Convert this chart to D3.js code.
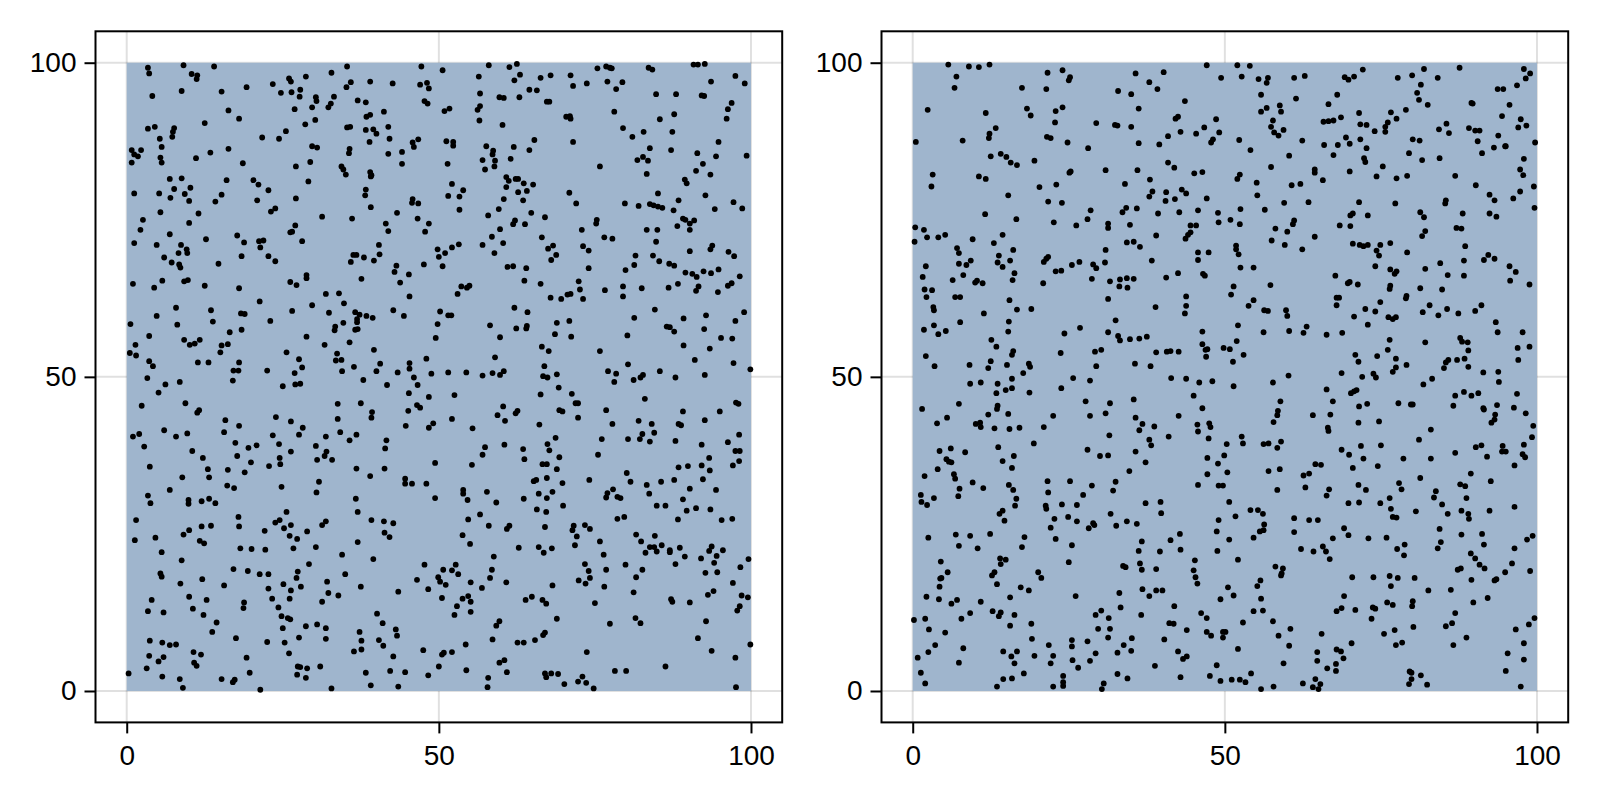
<!DOCTYPE html>
<html>
<head>
<meta charset="utf-8">
<style>
	html, body { margin: 0; padding: 0; background: white; }
	svg { display: block; }
	.tick text { font-family: "Liberation Sans", Arial, sans-serif; font-size: 28px; fill: black; }
</style>
<script src="https://cdn.jsdelivr.net/npm/d3@7"></script>
</head>
<body>
<svg class="chart" width="1600" height="800"></svg>
<script>
const tickValues = [0, 50, 100];
const domain = [-5, 105];
const fieldExtent = [0, 100];
const fieldColor = "#9fb5cd";

const leftPoints = [
[3.4,99.2],[3.6,98.3],[9.1,99.6],[14,99.4],[10.4,98.2],[11.3,98],[11.2,97.4],[4.1,94.7],[8.8,95.5],[15.2,95.4],[19.2,96.1],[23.4,96.6],[26,97.5],[26.3,97],[28.7,97.8],[32.8,98.4],[35.3,99.4],[35.2,96.1],[35.9,96.9],[39,97],[42.6,96.7],[47.2,99.4],[47,96.5],[48.1,96.8],[48.4,95.9],[24.7,95.2],[26.4,95.3],[27.8,95.7],[27.7,94.6],[30.3,94.5],[30.4,93.9],[33.2,94.6],[32.7,93.5],[32.3,92.9],[29.7,92.9],[26.9,92.6],[37,94],[38.3,93.7],[47.7,93.9],[48.2,93.5],
[16.3,92.4],[18,91.1],[12.5,90.4],[3.4,89.5],[4.5,89.8],[7.6,89.6],[7.4,89],[7.3,88.2],[5.3,87.9],[5.6,86.6],[21.7,88.1],[24.4,87.9],[25.5,89.1],[28.6,90.2],[30.2,90.9],[38.4,91.4],[39,91.7],[41.2,92.2],[35.3,89.7],[35.8,89.8],[38.3,89.3],[39.5,89.4],[40,88.7],[41.9,89.8],[42.1,87.9],[38.9,87.4],[45.8,87.3],[46.7,87.8],[46,86.6],[29.7,86.7],[30.5,86.5],[35.7,86.3],[35.6,85.6],[41.9,85.5],[44.1,85.8],[44.1,83.9],[0.8,86.1],[1.2,85.4],[1.8,85.1],[2.3,86.1],[0.8,84.1],[5.4,84.9],[5.6,84.1],[11.1,84.8],[13.4,85.7],[16.3,86.3],[18.6,84],[27.1,83.5],[29.4,84.2],[34.4,83.5],[34.7,83],[35.1,82.2],[39,82.6],[39.1,81.9],[39.2,82.1],
[6.9,81.5],[8.8,81.6],[16,81.3],[20.3,81.3],[21.1,80.6],[29.1,81.1],[7.6,79.9],[10.2,80.1],[22.7,79.7],[38.3,79.8],[38.2,78.9],[1.2,79.2],[5.2,79.2],[9.3,79.1],[7,78.5],[10,78],[15.2,79],[14.2,77.9],[20.9,78.1],[27.1,78.4],[45.8,78.3],[45.7,77.7],[46.7,77.6],[39.1,77],[23.1,76.3],[23.8,76.8],[5.4,76.2],[11.5,76],[43.3,76.1],[31.3,75.5],[36.1,75.2],[46.6,75.2],[2.6,75],[10,74.5],[41.5,74.4],[48.4,74.4],[27,74.1],[2.2,73.4],[41.9,73.2],[47.8,73.1],[26.5,73.1],[26.2,73],[6.9,72.7],[17.7,72.5],[12.7,71.9],[21.2,71.6],[21.9,71.7],[28.1,71.6],[18.8,71.4],[1.2,71.3],[4.8,71],[8.7,71],[9.6,70.3],[9.7,69.7],[8.3,69.7],[21.4,70.6],[40.4,71],[18.4,69.2],[22.7,69.2],[6,69],[36.3,69.4],[36.8,69.4],[38,69],[40.5,69.5],[39.6,68.5],[35.9,68.3],[23.8,68.4],[7.2,68.2],[8.4,67.9],[8.6,67.4],[14.7,68],[43.2,67.7],[47.6,67.9],[42.9,66.7],[45.2,66.3],[28.8,66.2],[28.8,65.7],[5.7,65.3],[9.2,65.2],[9.8,65.4],[1,64.8],[4.4,64.2],[12.5,64.5],[18,64.1],[26.2,65.1],[27.2,64.6],[37.6,65.6],[43.8,65],
[31.9,63.2],[34,63.3],[45.3,62.8],[21.3,62],[34.8,61.7],[29.7,61.4],[7.9,61],[13.5,60.6],[26.5,60.5],[18.3,60.1],[18.9,60],[32.4,60.2],[36.6,60.3],[37.3,59.9],[42.7,60.6],[44.4,59.7],[38.4,59.7],[39.4,59.4],[4.8,59.7],[36.9,59.2],[36.9,58.7],[13.8,58.8],[23,58.9],[34.7,58.6],[0.6,58.4],[8.1,58.3],[33.4,58],[33.3,57.4],[37,57.6],[36.6,57.5],[18.4,57.5],[16.5,57.1],[3.6,56.5],[28.8,56.4],[9.2,55.9],[11.7,55.9],[10.9,55.3],[10.1,55.1],[1.4,55.1],[15.2,55],[16.2,55.2],[35.7,55.5],[31.7,55.1],[39.6,54.3],[15,53.9],[0.5,53.8],[1.5,53.4],[25.6,53.9],[33.7,53.7],[27.6,52.8],[33.5,52.6],[34.4,52.7],[48,52.9],[3.6,52.5],[4.2,51.7],[11.4,52.3],[13.1,52.3],[18,52.3],[40.6,52.1],[45.3,52.2],[28.1,51.5],[36.4,51.6],[45.3,51.3],
[17.1,51],[17.9,51],[22.5,51],[26.9,50.6],[34.5,50.9],[40,50.9],[43.4,50.7],
[3.3,49.8],[6.2,48.8],[8.5,49.2],[5.1,47.5],[17,49.4],[25,48.5],[27,48.8],[27.8,48.9],[37.9,49.5],[41.7,48.7],[46,49.9],[46.6,48.7],[45.2,47.4],[48.4,46.8],[2.4,45.4],[9.4,45.8],[11.6,44.7],[11.3,44.3],[33.8,45.7],[37.5,45.8],[46.5,45.5],[47,45.1],[45.1,44.6],[39.3,44.4],[39.2,43.5],[23.9,43.6],[15.8,43.1],[26.3,42.9],[33.8,43.3],[18,42.2],[44.7,42.2],[28.2,41.9],[48.4,41.9],[6,41.5],[15.6,41.2],[9.7,41],[34.2,41.2],[1,40.5],[2,40.9],[7.9,40.5],[23.4,40.7],[27.6,40.8],[31.9,40.5],[36.8,40.8],[35.7,39.9],[41.6,39.9],[2.8,38.9],[17.4,39.5],[20.8,39.1],[19.5,38.7],[24.4,39.3],[30.3,39],[41.4,38.6],[10.5,38.2],[26.3,38.1],[32,38.1],[31.7,37.4],[17.7,37.4],[12.2,37.1],[24.5,37.1],[30.5,36.8],[32.9,36.8],[19.9,36.4],[24.6,36.1],[22.8,35.8],[3.7,35.7],[13,35.3],[16.2,35.2],[18.9,34.8],[36.8,35.4],[41.3,35.4],[13.2,34],[8.9,34],[39,34.2],[44.6,33.8],[30.8,33.3],[44.6,33],[45.7,33],[48,33],[16.1,32.7],[17.2,32.3],[24.8,32.5],[6.9,32],[30.4,31.6],[3.4,31.1],[3.8,29.9],[9.9,30.4],[9.9,29.8],[12,30.2],[13.2,30.6],[14.2,29.9],[36.7,30.6],[37,28.5],[25.6,28.5],[1.5,27.2],[17.9,27.7],[18,26.2],[12,26.2],[13.5,26.3],[23.8,26.8],[24.5,27.2],[26.3,26.4],[31.9,27],[31.3,26.4],[39.2,27.2],[41.2,27],[42.7,26.7],
[10,25.6],[9.1,24.9],[22.1,25.5],[25.2,25.9],[28.9,25.4],[26.1,24.7],[27.3,24.2],[41.3,25.2],[42.1,24.5],[4.6,24.4],[1.3,24],[11.7,23.9],[12.4,23.5],[37,23.7],[5.6,22.1],[18.2,22.7],[20,22.6],[22.2,22.5],[26.7,22.7],[30.3,22.9],[34.5,21.7],[8.8,20.8],[39.5,21],[29.2,20.2],[47.7,20.1],[17.1,19.4],[19.4,19.1],[5.4,18.7],[5.6,18.2],[21.3,18.6],[22.7,18.6],[27.4,19],[35,18.6],[27.2,18],[12.1,17.8],[46.5,17.7],[32.1,17.4],[8.6,17.1],[15.6,16.8],[25.1,17],[37.5,16.6],[27.9,16.6],[22.7,16.3],[26.3,16],[48.3,16.2],[43.5,15.8],[32.3,15.6],[33.9,15.2],[10,15],[23.3,14.7],[26.1,14.7],[4,14.5],[12.8,14.5],[18.8,14.1],[31.3,14.2],[18.7,13.2],[10.6,13.1],[3.4,12.7],[5.9,12.5],[24.3,13.3],[12.3,12.1],[40.1,12.3],[24.8,11.9],[25.8,11.6],[26.2,11.4],[14.4,10.9],[41,10.8],[28.7,10.3],[30.5,10.6],[31.9,10],[25,10],[43.1,9.8],[13.7,9.4],[37.3,9.4],[43.3,8.8],[17.5,8.4],[27.6,8.5],[31.9,8.3],[3.7,8],[5.7,7.7],[6.9,7.3],[7.9,7.4],[22.5,7.8],[25.3,7.7],[37.6,8],[40.4,8.1],[41.1,7.2],[37.6,6.6],[36.4,6.3],[47.5,6.5],[10.7,6.2],[11.9,5.8],[26,6],[3.6,5.6],[5.9,5.4],[19.2,5.3],[42.7,5.5],[5.1,4.7],[10.8,4.5],[11.2,4],[3.2,3.6],[27.4,3.9],[27.8,3.8],[28.9,3.6],[31,3.9],[0.3,2.8],[19.7,2.9],[27.3,2.6],[38.3,2.9],[42.2,3.2],[44.6,3],[48.3,2.5],[5.7,2.3],[28.7,2.1],[8.5,1.9],[15.2,1.9],[17.3,1.8],[17,1.4],[39.1,0.9],[43.5,0.7],[9,0.5],[21.4,0.2],[32.8,0.4],
[50.6,98.8],[58,99.6],[61.3,99.3],[62.5,99.8],[56.4,97.8],[63,98.1],[62.1,97.2],[66.3,97.6],[67.9,98],[71.1,98],[71.5,96.3],[73.7,96.7],[75.4,99.1],[76.8,99.4],[77.4,99.2],[77.7,99.1],[77,97],[79.4,96.9],[78.4,95.8],[83.6,99.2],[84.2,98.9],[90.8,99.7],[91.5,99.7],[92.6,99.8],[97.5,97.9],[99,96.7],[93.6,97],[56.6,95.1],[59.7,94.5],[60.4,94.4],[62.9,94.5],[64.5,95.7],[65.7,95.6],[67.3,93.8],[67.7,93.8],[84.8,95],[88,95],[92.1,94.8],[92.5,94.7],[96.9,93.6],[96.3,92.6],[50.9,92.3],[51.7,92.7],[56.6,93.1],[56.2,92.5],[56.5,90.8],[60.2,90.1],[78.1,92.2],[70.4,91.4],[71,91.5],[71.1,91.1],[85.4,91],[87.7,91.8],[96.1,91.1],[79.5,89.6],[81,88.2],[82.8,89],[87.4,89],[65.3,87.7],[51.2,87.5],[52.3,87.4],[52.3,86.8],[71.5,87.4],[94.8,87.4],[57.6,86.7],[62,86.6],[64.5,86.1],[58.7,86],[58.6,85.4],[83.8,86.4],[87.2,86.1],[91.4,85.6],[94.4,85.1],[99.3,85.2],[57,84.5],[59,84.4],[61.5,84.7],[81.8,84.5],[82.7,85],[83.5,84.4],[51.4,83.9],[58.9,83.5],[57.4,83],[75.8,83.5],[92.3,83.9],[91.2,82.8],[83.3,82.3],[93.5,82.2],[60.8,81.8],[61.2,81.2],[62.3,81.5],[62.7,81.5],[89.4,81.4],[89.7,80.8],[52.1,80.7],[63.6,80.8],[65.1,80.6],[60.8,80.2],[53.9,79.7],[64.1,79.6],[62.7,79.4],[70.9,79.3],[85.1,79.2],[51.5,78.8],[53.3,78.7],[92.7,78.9],[60.4,78.3],[63.5,78.1],[88.4,78.1],[72,77.6],[79.8,77.6],[82,77.2],[83.8,77.5],[84.4,77.3],[85.1,77.1],[85.8,76.9],[97.2,77.8],[98.6,76.8],[94.2,76.7],[53.3,76.6],[59.6,76.7],[87.6,76.5],[64.8,76.1],[57.9,75.7],[67,75.4],[89.1,75.2],[89.5,75],[90.9,74.9],[62.2,74.9],[61.9,74.3],[63.8,74.3],[75.3,75],[75.2,74.4],[90.2,74.4],[88.2,74],[59.8,73.5],[72.9,73.4],[83.3,73.4],[85,73.4],[90.2,73.4],[58.5,72.3],[66.5,72.2],[76.5,72.2],[77.8,72],[84.8,71.5],[60.3,71.3],[53.2,71.1],[57,71],[52.1,70.6],[68.3,70.9],[67.5,70.4],[73.1,70.8],[74,70.1],[93.8,70.9],[93.5,70.3],[49.8,70.3],[51,69.7],[50,69.1],[58.9,69.7],[68.8,69.4],[90.2,70],[96.4,69.9],[97.3,69.2],[81.5,69.3],[84.3,69.3],[68,68.6],[85.3,68.4],[86.9,68],[87.7,67.7],[50.6,67.6],[61,67.5],[61.9,67.6],[64,67.3],[81.3,67.8],[74,67.3],[79.9,67],[89.5,66.6],[90.6,66.4],[91.3,65.9],[92.4,66.8],[93.6,66.5],[94.8,67.1],[98.2,66],[63.7,65.3],[66.3,64.8],[72.4,65.2],[96.9,64.9],[53.6,64.4],[54.9,64.5],[54.5,64.2],[79.5,64.4],[82.5,64.1],[86.8,64.2],[88.3,64.8],[91.6,64.4],[91.2,63.7],[96.3,64.5],[72.6,63.9],[76.6,63.8],[53,63.2],[94.7,63.5],[70.6,63.1],[71.1,63.2],[79.5,62.8],[67.9,62.6],[69.6,62.4],[73.1,62.4],[62.1,61],[84.6,60.7],[50.2,60.4],[64.2,60.3],[98.9,60.3],[51.5,59.8],[52,59.8],[92.8,59.8],[81.3,59.4],[89.2,59.3],[97.5,58.9],[70.9,58.9],[68.9,58.6],[49.8,58.4],[58.2,58.2],[64.1,58.1],[62.4,57.7],[64,57.7],[86.5,58],[87,57.9],[87.7,57.2],[92.5,57.6],[68.6,56.8],[71.2,56.4],[80.2,56.6],[49.5,56.2],[59.8,56.3],[95.2,56.2],[97,56.1],[89.2,55],[66.5,54.8],[67.6,54.1],[75.8,54.1],[93.4,54.5],[59,53.1],[91,52.7],[97.2,52.2],[80.3,52],[66.9,51.7],[99.9,51.2],
[48.8,50.5],[51.5,50.7],[54.4,50.7],[57,50.2],[58.6,50.6],[59.8,50.3],[60.4,50.9],[66.7,50.1],[67.4,49.9],[68.9,50.4],[77.1,50.9],[78.4,50.5],[78.1,49.2],[81.2,49.5],[82.3,49.9],[82.7,50.3],[85.4,50.9],[87.9,49.9],[92.6,50.3],[69.2,48.3],[52.5,47.1],[66.3,47.2],[71.3,47.3],[83,46.5],[71.9,45.8],[72.3,45.8],[60.3,45.3],[97.6,45.9],[98,45.7],[59.4,43.9],[62.6,44.6],[62.3,44.2],[69.3,44.7],[69.8,44.5],[76.8,44.7],[89.1,44.5],[95,44.5],[52.1,43.3],[60.6,43],[72.3,43.5],[82,43],[92.6,43.1],[49.1,42.6],[66.1,42.4],[77.8,42.5],[84.1,42.5],[88.4,42.5],[88.8,42.3],[55.4,41.8],[84.5,41.1],[82.6,40.9],[98.1,40.8],[68.7,40.3],[76.1,40.1],[80.3,40.1],[82.2,40.1],[83.8,39.7],[87.9,39.8],[96.3,39.6],[60.5,39.2],[67.4,39.3],[92.1,39.2],[57.4,38.8],[63.5,38.5],[67.7,38.3],[97.5,38.2],[98.2,38.2],[57,37.6],[75.5,37.6],[69.3,37.2],[93.3,37.1],[63.7,36.9],[98.1,36.6],[49.4,36.3],[66.6,36.1],[67.3,36.1],[55.3,36],[92.1,35.9],[89.9,35.8],[88.4,35.6],[97.1,35.9],[68.9,35.3],[93.4,35.1],[80.1,34.7],[65.6,33.6],[65.2,33.4],[67.3,33.9],[74.1,33.6],[80.7,33.3],[85.6,33.3],[87.7,33.6],[92.3,33.7],[69.8,33.1],[83.3,32.8],[77.9,32.1],[53.9,32],[53.9,31.4],[57.7,31.7],[90.2,32.2],[94.4,32],[68.2,31.7],[66,31.4],[77,31.5],[76.8,30.8],[83.7,31.4],[78.6,30.9],[79.1,30.7],[49.4,30.7],[63.6,30.6],[67.3,30.7],[54.6,30.4],[89.1,30.5],[59.2,30],[69.9,29.5],[84.9,29.5],[86.3,29.5],[65.7,28.9],[67.2,28.5],[91.2,29.1],[93.5,28.9],[89.7,28.7],[56.6,28.1],[79.7,27.7],[78.6,27.4],[88.3,27.3],[54.7,27.3],[95.3,27.2],[97,27.4],[58,26.3],[67,26.1],[71.6,26.3],[73.4,26.4],[74.2,25.8],[61.3,26.3],[60.9,25.8],[71.4,25.6],[53.8,24.8],[72.1,24.6],[81.6,24.9],[84.6,24.7],[75.8,23.8],[82.4,23.8],[55,23.4],[71.8,23.2],[85.7,23.2],[93.7,23],[62.8,22.8],[66,22.9],[68.1,22.7],[83.8,22.9],[84.5,22.9],[84.9,22.2],[88.6,22.8],[87,22.4],[87,22.1],[66.8,22],[83.1,22],[93.3,22.3],[95.5,22.4],[94.5,21.5],[76.4,21.7],[89.4,21.4],[58.8,21.4],[92,21.1],[99.6,21],[52.7,20.1],[73.4,20.2],[79.9,20.1],[87.9,20.2],[94.1,20.4],[50.7,19.3],[52.1,19.2],[58.5,19.3],[76.8,19.3],[82.6,19.3],[98.3,19.7],[53.1,18.6],[74,19.1],[92.7,18.8],[94.6,18.9],[49.9,18.1],[50.2,17.4],[51.1,16.9],[58.2,18],[74.2,18],[81.6,18.1],[55.1,17.3],[60.8,17.3],[72.4,17.6],[73.5,17.1],[97.1,17.2],[56.9,16.4],[68.2,16.8],[76.5,16.6],[81.2,15.7],[94,15.9],[93.1,15.3],[50.5,14.8],[53.8,14.7],[54.7,15.1],[55.1,14.2],[64.9,15],[63.9,14.5],[66.6,14.5],[98.5,15.2],[99.5,14.9],[87.2,14.6],[87.4,14.2],[90.2,14.1],[67.2,13.9],[75,14],[52.9,13.5],[98.2,13.5],[97.8,12.8],[55.1,12.6],[52.5,12.1],[68.9,11.5],[81.5,11.6],[59.7,11.1],[92.8,11.1],[82.3,10.8],[77.4,10.7],[59.2,10.4],[67,9.3],[66.7,8.9],[91.5,8.4],[58.6,8.2],[65.4,8.1],[62.6,7.7],[63.6,7.7],[54.3,7.4],[99.9,7.4],[93.7,6.4],[73.7,6.2],[52.1,6.2],[50.8,6.1],[50.5,5.8],[97.5,5.3],[60.5,4.9],[59.7,4.5],[50,3.9],[86.3,3.9],[54.4,3.3],[60.9,3],[78.2,3.2],[80,3.2],[67,2.8],[68,2.8],[69.1,2.7],[67.2,2.2],[73,2.3],[57.9,2.1],[72.3,1.5],[73.6,1.3],[70.1,1.1],[57.8,0.6],[74.8,0.4],[97.6,0.6]
];

const rightPoints = [
[5.7,99.7],[9,99.4],[10.6,99.3],[12.3,99.7],[7,97.8],[6.7,96],[21.6,98.4],[24,98.8],[25.2,97.7],[25,97.2],[17.5,96],[21.4,95.8],[35.7,98.3],[40.2,98.5],[37.9,96.9],[39.2,95.8],[32.9,95.5],[35,95],[43.6,93.9],[2.4,92.5],[11.7,92],[18.3,92.7],[18.9,91.6],[22.9,92.3],[24,92.9],[36.2,92.7],[42.5,91.4],[42.1,91.1],[22.8,90.5],[29.4,90.4],[32.4,90.1],[32.8,90],[35,89.8],[13.3,89.6],[12.3,88.7],[12.2,88],[42.9,89],[45.4,88.7],[40.9,88.3],[0.5,87.4],[8,87.6],[21.5,88.2],[22.1,88],[24.8,87.3],[36.2,87.2],[39.5,87],[28.1,86.4],[12.5,85.1],[14.1,85.5],[15,85],[15.7,84.1],[16.7,83.7],[19.5,84.4],[40.9,84.1],[41.9,83.3],[25.3,82.7],[25.1,82.5],[30.9,82.9],[36,82.9],[45.1,82.4],[3.2,82.2],[3,80.3],[10.6,81.9],[11.7,81.5],[38,81.4],[23,80.6],[34,80.7],[20.3,80.2],[38.4,79.5],[43.1,79.8],[43.8,79.2],[40.6,79.4],[15.3,78.9],[37.9,78.7],[42,78.3],[40.5,78],[21.7,77.9],[23.9,77.7],[34.2,76.9],[35.9,76.8],[28.5,76.5],[33.6,76.2],[39.3,76],[42.7,76.2],[45.7,76.5],[11.6,75.9],[16.6,75.1],[28,75.1],[22.6,74.6],[26.2,74.1],[31.3,74.4],[31.3,73.7],[34.8,74.2],[44.5,74.1],[45.4,74.1],[0.4,73.8],[1.8,73.4],[44.5,73],[44.1,72.6],[43.7,72],[5.2,72.6],[14.4,72.6],[39,72.5],[2.3,72.2],[4.1,72.2],[9.6,71.9],[0.3,71.5],[13,71.3],[34.3,71.4],[35.4,71.5],[36.4,70.7],[7.1,70.5],[7.4,69.7],[16.1,70.2],[30.9,70.2],[45.7,69.8],[13.8,69.3],[21.7,69.1],[21.4,68.8],[21,68.3],[15.6,68.5],[9.3,68.5],[45.7,68.6],[38.3,68.5],[13.6,68.2],[7.4,68],[8.6,67.8],[2.1,67.6],[14.4,67.5],[26.7,68.3],[25.5,67.8],[28.9,67.9],[29.4,67.3],[30.8,68.2],[22.9,66.8],[23.8,66.9],[16.3,66.5],[42.5,66.5],[8.1,66.2],[1.6,65.9],[40.6,65.8],[6.4,65.4],[16,65.4],[28.7,65.6],[33.2,65.5],[34.3,65.7],[35.4,65.6],[31.6,65.2],[10.3,65.3],[10,65],[11.2,64.9],[20.9,64.9],[33.1,64.4],[34.4,64.2],[1.9,63.9],[3.1,63.8],[2.2,62.7],[6.8,62.7],[7.6,62.7],[43.8,62.8],[15.5,62.2],[31.3,62.4],[3.3,61.1],[3.4,60.6],[16.7,60.7],[19,60.8],[38.9,61.1],[43.8,61.3],[11.4,60.1],[43.6,60.1],[7.6,58.7],[15.4,58.8],[32.5,59],[1.8,57.5],[3.4,58.2],[4.1,56.8],[5.3,57.3],[15.3,57.2],[26.8,57.8],[24.3,56.9],[31.3,57.1],[32.9,56.5],[33.2,55.8],[34.8,56],[36.3,56.1],[37.5,56.4],[12.6,55.9],[13.4,54.8],[16.1,54.1],[15.9,53.5],[23.7,53.8],[30.2,54.3],[29.2,54],[39,53.9],[40.7,54],[41.3,54.1],[42.6,54],[2.1,53.3],[3.5,51.7],[9.1,51.9],[12.5,52.5],[12.1,51.4],[15.1,51.9],[18.6,52.1],[18.8,51.6],[29.4,51.7],[35.6,52.1],[38.1,51.7],
[17.7,50.6],[15.9,49.7],[25.7,49.8],[28.4,49.4],[41.4,49.8],[43.8,49.7],[45.9,49.1],[9.2,48.9],[10.9,49.1],[13.6,48.9],[14.9,47.9],[15.9,48.2],[13.4,47.4],[18.7,47.5],[23.8,48.2],[45,47],[35.4,46.4],[27.7,46.1],[31.6,45.8],[7.4,45.7],[13.6,45.4],[13.5,44.9],[1.5,44.9],[12.1,44],[15.3,44.1],[22.5,43.8],[28.4,43.8],[30.9,44.2],[42.6,43.8],[5.5,43.5],[35.7,43.5],[3.9,42.6],[10.1,42.5],[10.8,42.7],[10.9,42],[36.8,42.5],[45.6,42.4],[13.1,41.8],[15.5,41.7],[17.1,41.9],[21,42],[38.7,42.1],[36.3,41.5],[45.7,41.3],[31.5,40.7],[41,40.5],[37.9,40],[38.2,39.1],[19.4,39.4],[13.7,38.8],[6.1,38.6],[4.3,38.2],[8.4,38],[28,38.4],[35.7,38.1],[30,37.4],[31.3,37.5],[16.2,37.4],[5.4,36.9],[5.8,36.5],[6.2,36.4],[14.4,36.6],[37.3,36.4],[15.9,35.5],[4,35.3],[34.7,35],[6.6,34.5],[1.9,34.2],[6.8,33.8],[21.6,33.4],[25.2,33.4],[9.6,33.2],[32.5,33.3],[15.4,32.8],[28.7,32.7],[45.7,32.8],[11.3,32.3],[7.5,32.2],[16.1,32],[32.1,31.9],[21.7,31.6],[1.3,31.2],[7.3,31],[27.3,31.2],[3.4,30.7],[16.6,30.6],[1.4,30.1],[39.7,30.1],[2.3,29.6],[16.4,29.5],[21.3,29.5],[21.4,29],[23.9,29.7],[26.3,29.6],[37.3,29.9],[14.4,28.7],[13.9,28.2],[31.7,28.2],[39.8,28.3],[22.7,27.4],[24.9,27.7],[14.7,27.1],[26.3,27],[34.3,27],[28.9,26.7],[29.1,26.4],[35.9,26.6],[32.6,26.3],[22.1,26],[28.2,25.9],[6.9,24.9],[9.2,24.7],[12.4,25],[42.8,25],[2.5,24.4],[17.9,24.5],[22.9,24.2],[41.3,24],[36.7,23.8],[25.5,23.2],[7.4,23.1],[17.5,22.9],[10.4,22.7],[36.2,22.3],[42.9,22.5],[39.6,22.2],[14,21.1],[14.9,20.9],[14.1,20.2],[4.5,20.6],[25,20.5],[45.2,20.8],[36.4,20.3],[33.7,19.9],[34.1,19.7],[36.7,19.3],[39,19.4],[45,19.2],[5.6,18.9],[13.1,18.9],[12.7,18.4],[20.1,18.9],[20.6,18],[45.3,18.1],[4.4,17.9],[4.6,18],[45.6,17.1],[13.5,17],[4.3,16.6],[17.3,16.5],[18.6,16],[36.8,16.2],[39,16],[40,16],[33.1,15.6],[2.2,15],[15.6,14.9],[26.1,15.1],[37.9,15.1],[4.2,14.6],[7.1,14.5],[10.9,14.2],[6.2,13.9],[41.9,13.5],[33.3,13.3],[12.8,12.7],[30.2,12.8],[14.1,12.5],[9.2,12.4],[13.8,11.9],[16.3,12.1],[29.3,12.1],[36.6,12.1],[46.2,12.4],[0.2,11.3],[2,11.5],[7.8,11.5],[31.4,11.6],[19,10.7],[41.1,10.8],[41.8,10.7],[15.6,10.4],[2.6,9.8],[29.7,9.9],[31.6,9.9],[43.9,9.7],[5.2,9.3],[31.3,8.5],[19.1,8.3],[35.1,8.4],[40.3,8.2],[25.5,8.1],[28,7.9],[3.6,7.3],[21.8,7.3],[33.8,7.3],[25.5,7.1],[8.1,6.8],[2.5,6.2],[14.5,6.3],[16.7,6.3],[35,6.4],[32.8,6.1],[42.5,6.3],[29.3,6],[15.8,5.5],[19.5,5.6],[22.5,5.6],[0.8,5.3],[43.9,5.5],[43.3,5.1],[25.6,4.9],[28.4,4.8],[7.4,4.5],[16.3,4.4],[22.1,4.4],[38.8,4],[26.5,3.7],[1.3,2.9],[17.8,2.8],[32.8,2.7],[24.1,2.4],[42.9,2.2],[14.5,1.9],[15.9,2],[34.4,2],[2,1.2],[24.1,1.4],[30.6,1.2],[13.5,0.7],[22.5,0.7],[24.1,0.8],[30.3,0.3],
[47.1,99.6],[52,99.6],[54,99.5],[49.4,97.6],[52.7,97.8],[55.4,97.4],[56.9,97.6],[56.7,96.8],[61.1,97.6],[62.8,97.9],[69.2,97.7],[69.8,97.3],[70.7,97.8],[72.1,98.9],[77.7,97.6],[80,98],[81.9,99],[84.1,97.6],[87.6,99.2],[97.9,99],[98.9,98.3],[98.2,97.5],[96.8,96.4],[81.4,96.5],[93.7,95.8],[94.6,95.8],[55.8,94.9],[80.8,95.2],[68,94.9],[61.4,94.3],[81.1,94.1],[66.6,93.4],[82.5,93.3],[89.5,93.6],[89.7,93.5],[95.6,93.3],[58.8,93.2],[56.7,92.8],[55.8,92.2],[59,92.2],[71.5,92],[76.6,92.1],[79,92.5],[68.6,91.3],[77.5,91.1],[94.4,91.5],[48.6,91],[57.7,90.8],[97.4,91],[67.4,90.8],[66.6,90.7],[65.8,90.6],[71.7,90.2],[72.7,90.1],[76.1,90.5],[85.5,90.3],[98.3,90],[46.7,89.7],[57.4,89.8],[75.7,89.8],[97,89.7],[59.4,89.3],[75.7,89],[74,89.1],[84.3,89.4],[89.1,89.6],[90.1,89.2],[90.8,89.2],[49.1,88.9],[57.9,88.9],[58.6,88.4],[85.9,88.8],[93.8,88.4],[69.4,88.1],[48.1,87.8],[47.8,87.3],[52.3,87.7],[62.4,87.6],[71.7,87.8],[80.1,87.8],[81.2,87.6],[90.5,87.5],[99.7,87.3],[65.9,86.9],[68.1,86.9],[70,87.1],[94.9,86.7],[95,86.7],[93.1,86.5],[72.7,86.4],[54.1,86.1],[79.5,85.6],[91.2,85.6],[60.3,85.2],[67.4,85.3],[84.4,84.8],[97.9,84.7],[72.3,84.8],[72.5,84.2],[81.6,84.5],[57.4,83.4],[75.3,83.5],[46.4,82.6],[64.4,83],[64.4,82.5],[52.4,82.2],[70,82.7],[97.3,83],[97.8,82.1],[74.3,81.9],[79.2,82],[86.9,82],[52,81.5],[77.5,81.6],[65.7,81.3],[55.1,80.9],[60.7,80.5],[62.1,80.7],[90.2,80.5],[99.5,80.3],[55.2,78.9],[92.4,79],[97.3,79.5],[47.1,78.4],[93.2,78.1],[96.2,78.4],[85.4,78.1],[85.3,77.6],[59.5,77.7],[63.4,77.8],[71.5,77.8],[77.3,77.6],[99.6,76.9],[52.5,76.7],[56.4,76.6],[48.9,76.1],[81.3,76.2],[88.1,76],[92.4,76],[70.5,76],[70.1,75.7],[72.9,75.7],[81.9,75.4],[93.5,75.5],[50.9,75],[49,74.6],[52.4,74.3],[61.1,74.9],[60.9,74.3],[68.4,74.1],[70.1,74],[87.1,73.7],[87.9,73.6],[58.1,73.6],[60,73.1],[82.1,73.2],[81.6,72.4],[64.4,72.3],[57.5,71.7],[59.6,71],[70.5,71.2],[71.6,71],[72.2,70.8],[72.9,71],[74.9,71],[76.5,71.3],[88.5,70.8],[51.8,70.9],[51.8,70.3],[62.4,70.3],[74.3,70.1],[47.4,69.8],[52.2,69.5],[79.2,69.8],[74.7,69.3],[92.2,69.4],[91.5,68.6],[93.2,68.8],[88.3,68.5],[84.5,68.1],[52.5,67.4],[54.6,67.4],[74.1,67.6],[76.5,67.1],[82.1,67.2],[95.6,67.6],[77.5,66.8],[77.2,66.4],[96.6,66.7],[46.5,66.4],[46.8,66.1],[67.7,66.1],[85.7,66.2],[88.3,66.1],[70,65.1],[69.7,64.9],[71.3,64.7],[95.7,65.3],[51.4,64.4],[57.3,64.6],[98.8,64.7],[76.5,64.5],[76.4,64],[81.3,64.1],[84.8,63.9],[51,63.1],[79.1,62.9],[79,62.5],[67.9,62.6],[68.3,62.6],[67.9,61.4],[54.6,62.2],[53.8,61.3],[74.9,61.9],[82.8,61.4],[91.1,61.4],[72.5,60.8],[85.6,60.8],[56.3,60.6],[56.9,60.5],[59.8,60.6],[74.1,60.4],[81.7,60.3],[90.1,60.5],[60,59.7],[84.2,59.8],[87.4,60.1],[70.7,59.6],[76.2,59.5],[77.4,59.5],[76.9,59.2],[93.4,58.7],[52.1,58.2],[72.9,58.3],[63.1,58],[46.4,57.2],[56.2,57.1],[60.3,57.3],[62.6,57],[66.3,56.7],[68.8,57],[93.7,57.1],[97.7,57.1],[87.7,56.2],[88,55.6],[88.9,55.5],[51.9,55.7],[76.4,55.9],[82.1,55.5],[46.4,55.2],[47.2,54.4],[46.9,54.3],[49.8,54.6],[50.8,54.4],[96.9,54.6],[98.8,54.8],[89,54.2],[76.1,54.3],[53,53.5],[70.9,53.5],[47,53.2],[74.4,53.3],[77.4,52.9],[85.8,52.7],[85.4,52.3],[87.2,52.7],[88.4,52.9],[97,52.7],[51.3,52.4],[71.4,52.4],[79.1,51.9],[89,51.6],[77.4,51.5],[85.1,51.4],
[48,49.3],[51.4,48.5],[57.7,49.1],[60.2,50.2],[68.7,50.6],[72,50],[73.8,50.5],[74.2,49.9],[76.9,50.8],[83.2,49.7],[81.8,48.8],[91.4,50.7],[93.8,50.8],[93.9,49.2],[66.3,48],[70.2,47.4],[71.1,47.9],[70.7,47.7],[86.9,47],[88.3,47.6],[89.5,47],[90.6,47.4],[96.8,47.3],[58.9,46.1],[67.3,46.1],[77.8,45.8],[79.8,45.6],[80.1,45.6],[72.8,45.7],[71.5,45.3],[86.6,45.4],[93.6,45.5],[91.4,45],[91.5,44.8],[96.3,45.1],[46.4,45],[58.5,44.6],[58.4,43.9],[64.1,43.9],[66.9,44],[98.2,44.2],[93.3,44],[93.2,43.2],[57.8,42.8],[71.4,42.7],[74.7,42.9],[92.7,42.7],[47.5,42.6],[47.7,42],[66.5,41.9],[66.6,41.4],[99.4,42.2],[83,41.6],[52.7,40.5],[99.2,40.4],[47.4,40.2],[81.1,40],[59,39.7],[50.3,39.3],[52.9,39.4],[56.2,39.3],[57,39.4],[71.8,39],[75,39.1],[91.1,39.1],[90.2,38.8],[94.5,39],[97.9,39.2],[58.4,38.7],[68.7,38.4],[94.4,38.1],[95,38.1],[69.9,37.6],[86.9,37.9],[97.7,37.7],[98.1,37.2],[49.9,37.5],[47.2,37.1],[72.2,37],[78.6,37],[83,37],[92,37.3],[48.9,36.2],[64.5,36.1],[65.4,36],[96.4,35.9],[74.5,35.8],[70.5,35.5],[58.8,35.3],[57,35],[50.4,34.8],[47.2,34.5],[62.6,34.3],[63.5,34.6],[89.4,34.6],[81.3,33.9],[92.6,33.4],[77.9,33.1],[87.7,32.9],[88.5,32.6],[49,32.7],[49.7,32.7],[71.4,32.8],[62.9,32.4],[58.4,32],[66.7,32.1],[72.6,32],[78.3,32.1],[83.8,31.8],[66.3,31.1],[76.4,30.7],[83.5,30.8],[88.7,30.7],[50.7,30.1],[69.8,29.9],[71.5,30],[74.9,29.9],[84.8,29.7],[96.4,29.3],[54.1,28.8],[55.3,28.8],[76.6,29],[80.6,28.6],[87.9,28.7],[92.4,28.7],[56.1,28.2],[85.7,28.2],[89,28.2],[76.9,27.7],[77.5,27.6],[89.1,27.4],[51.7,27.8],[49,27.2],[61.1,27.5],[63.5,27.2],[64.9,27.2],[56.3,26.5],[69.1,25.9],[84.4,25.8],[48.7,25.4],[56.2,25.6],[55.6,25.4],[61.1,25.3],[69.8,24.8],[87.9,24.9],[91.2,25],[54.6,24.4],[50.7,24.1],[67.3,24.3],[73,24.3],[75.9,24.4],[98.4,24.1],[99.3,24.7],[84.6,23.7],[91.5,23.3],[78.8,23.3],[65.7,23],[62.2,22.6],[77.6,22.6],[84.1,22.7],[96.4,22.7],[48.8,22.3],[64.2,22.2],[66.2,22.2],[78.7,21.6],[89.4,21.9],[90.1,21.1],[66.8,21],[52.1,20.9],[90.8,20.1],[96,20.3],[91.6,19.5],[58.1,19.8],[59.3,19.5],[87.3,19.3],[87.8,19.5],[98.9,19.1],[94.9,18.9],[59,18.4],[59.1,18.7],[70.4,18.1],[73.8,18.1],[76.4,18.3],[77.7,18],[80.4,18],[89.5,17.7],[93.5,17.8],[93.2,17.6],[55.7,17.6],[55.2,16.7],[50.5,16.5],[76.6,16.7],[82.6,16],[86.2,16.1],[51.4,15.2],[69.1,15.1],[49.3,14.6],[55.8,14.7],[92.1,14.8],[80.1,14.3],[76,14.1],[76.9,13.7],[80,13.5],[89.8,14.1],[68.7,13.2],[67.9,12.7],[70.9,12.9],[73.7,13.3],[74.1,13.1],[56.1,12.8],[54.6,12.7],[86.9,12.4],[47.1,11.6],[73.5,11.5],[99.6,11.6],[57.7,11.1],[52.9,10.9],[86.4,10.8],[98.7,10.6],[85.4,10.3],[80.2,10.2],[60.5,9.9],[96.6,9.8],[77.2,9.7],[47.1,9.4],[49.7,9.4],[50.1,9.4],[75.5,9.1],[65.5,9.1],[58.6,8.8],[47.8,8.8],[49.7,8.5],[88.7,8.5],[70.3,7.6],[78.4,7.7],[77.4,7.3],[86.6,7.3],[97.9,7.6],[60.3,7.2],[52.1,6.7],[67.9,6.6],[68.6,6.3],[64.8,6.2],[95.3,6],[69,5.2],[97.9,5],[64.8,4.8],[59.4,4.4],[48.7,4.1],[67.8,4.3],[66.4,3.6],[67.8,3.2],[95,3.2],[79.6,3.1],[79.9,2.9],[54.2,2.8],[81.4,2.5],[47.6,2.4],[49.3,1.6],[51.1,1.8],[52.4,1.8],[53.3,1.4],[79.9,1.9],[64.5,1.9],[79.5,1.1],[62.5,1.2],[65.3,1.1],[82.4,1],[64.1,0.6],[57.8,0.7],[97.4,0.7],[55.8,0.3],[65,0.3]
];

const svg = d3.select("svg.chart");

function drawPanel(points, left, right) {
	const top = 31.3, bottom = 722.4;

	const x = d3.scaleLinear().domain(domain).range([left, right]);
	const y = d3.scaleLinear().domain(domain).range([bottom, top]);

	const g = svg.append("g");

	// grid sits under the field, only its stubs stay visible around it
	g.append("g")
		.selectAll("line")
		.data(tickValues)
		.join("line")
		.attr("x1", d => x(d)).attr("x2", d => x(d))
		.attr("y1", top).attr("y2", bottom)
		.attr("stroke", "black").attr("stroke-opacity", 0.12).attr("stroke-width", 2);
	g.append("g")
		.selectAll("line")
		.data(tickValues)
		.join("line")
		.attr("x1", left).attr("x2", right)
		.attr("y1", d => y(d)).attr("y2", d => y(d))
		.attr("stroke", "black").attr("stroke-opacity", 0.12).attr("stroke-width", 2);

	g.append("rect")
		.attr("x", x(fieldExtent[0]))
		.attr("y", y(fieldExtent[1]))
		.attr("width", x(fieldExtent[1]) - x(fieldExtent[0]))
		.attr("height", y(fieldExtent[0]) - y(fieldExtent[1]))
		.attr("fill", fieldColor);

	g.append("g")
		.selectAll("circle")
		.data(points)
		.join("circle")
		.attr("cx", d => x(d[0]))
		.attr("cy", d => y(d[1]))
		.attr("r", 2.9)
		.attr("fill", "black");

	g.append("rect")
		.attr("x", left).attr("y", top)
		.attr("width", right - left).attr("height", bottom - top)
		.attr("fill", "none")
		.attr("stroke", "black")
		.attr("stroke-width", 2);

	const xAxis = g.append("g")
		.attr("transform", "translate(0," + bottom + ")")
		.call(d3.axisBottom(x).tickValues(tickValues).tickSizeOuter(0).tickSize(11).tickPadding(12));
	const yAxis = g.append("g")
		.attr("transform", "translate(" + left + ",0)")
		.call(d3.axisLeft(y).tickValues(tickValues).tickSizeOuter(0).tickSize(11).tickPadding(8));

	xAxis.select(".domain").remove();
	yAxis.select(".domain").remove();
	xAxis.selectAll(".tick line").attr("stroke-width", 2);
	yAxis.selectAll(".tick line").attr("stroke-width", 2);
}

drawPanel(leftPoints, 95.5, 782.2);
drawPanel(rightPoints, 881.5, 1568.2);
</script>
</body>
</html>
